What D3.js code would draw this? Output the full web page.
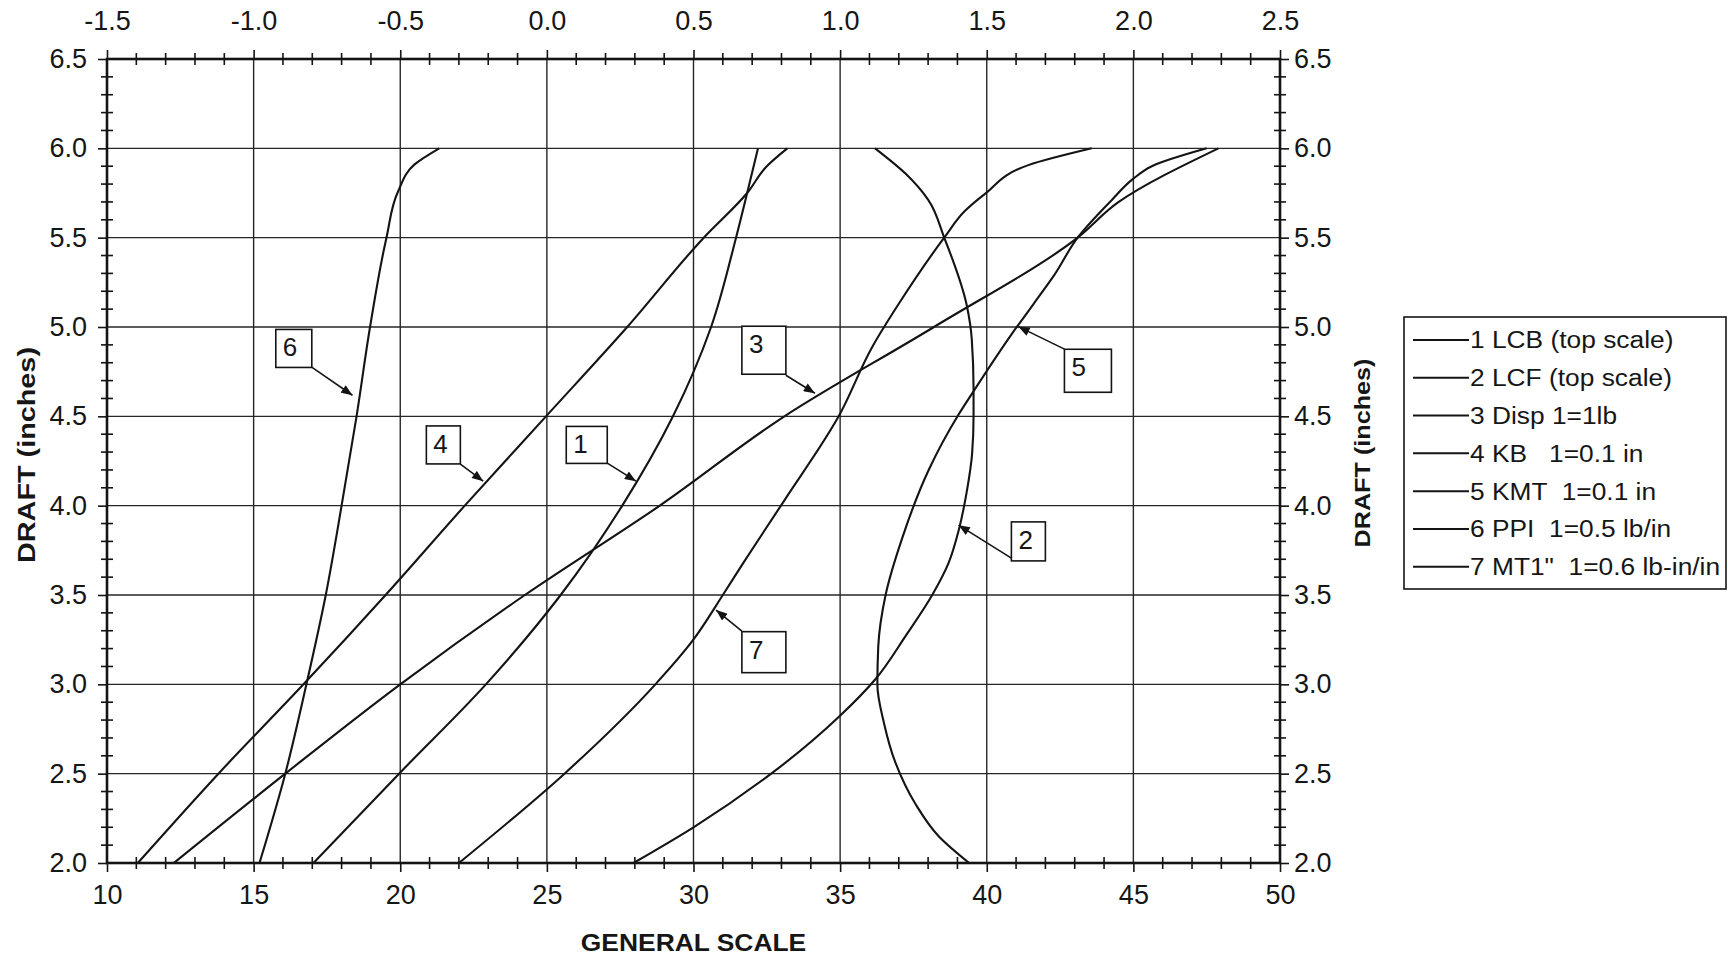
<!DOCTYPE html>
<html><head><meta charset="utf-8">
<script src="https://cdn.jsdelivr.net/npm/d3@7"></script>
<style>
html,body{margin:0;padding:0;background:#fff;}
svg{display:block;background:#fff;}
text{font-family:"Liberation Sans",Arial,Helvetica,sans-serif;fill:#161616;}
</style></head><body>
<svg id="chart" width="1728" height="958"></svg>
<script>
// ---------- DATA ----------
const bottomTicks = [10, 15, 20, 25, 30, 35, 40, 45, 50];
const topTicks = [-1.5, -1.0, -0.5, 0.0, 0.5, 1.0, 1.5, 2.0, 2.5];
const draftTicks = [2.0, 2.5, 3.0, 3.5, 4.0, 4.5, 5.0, 5.5, 6.0, 6.5];

// 1 LCB (top scale)
const lcbDraft = [2.0, 2.5, 3.0, 3.5, 4.0, 4.5, 5.0, 5.5, 5.75, 6.0];
const lcbTop   = [-0.796, -0.504, -0.208, 0.047, 0.257, 0.43, 0.56, 0.645, 0.683, 0.72];
// 2 LCF (top scale)
const lcfDraft = [2.0, 2.2, 2.5, 2.82, 3.03, 3.27, 3.5, 3.68, 3.86, 4.08, 4.29, 4.5, 4.65, 4.93, 5.12, 5.5, 5.71, 5.86, 6.0];
const lcfTop   = [0.295, 0.5, 0.765, 0.997, 1.121, 1.223, 1.314, 1.37, 1.404, 1.432, 1.45, 1.455, 1.455, 1.449, 1.432, 1.355, 1.301, 1.222, 1.119];
// 3 Disp (general scale)
const dispDraft = [2.0, 2.5, 3.0, 3.5, 4.0, 4.5, 5.0, 5.5, 5.7, 6.0];
const dispVal   = [12.28, 16.08, 20.0, 24.25, 28.85, 33.1, 38.2, 43.1, 44.5, 47.9];
// 4 KB
const kbDraft = [2.0, 2.5, 3.0, 3.5, 4.0, 4.5, 5.0, 5.5, 5.75, 5.9, 6.0];
const kbVal   = [11.05, 13.8, 16.7, 19.5, 22.2, 24.97, 27.74, 30.35, 31.83, 32.5, 33.2];
// 5 KMT
const kmtDraft = [2.0, 2.15, 2.33, 2.56, 2.78, 3.0, 3.21, 3.5, 3.82, 4.2, 4.51, 4.64, 4.96, 5.13, 5.29, 5.5, 5.71, 5.83, 5.9, 6.0];
const kmtVal   = [39.4, 38.36, 37.57, 36.89, 36.5, 36.27, 36.3, 36.55, 37.12, 38.02, 39.04, 39.55, 40.85, 41.6, 42.3, 43.1, 44.26, 45.0, 45.63, 47.5];
// 6 PPI
const ppiDraft = [2.0, 2.5, 3.0, 3.5, 4.0, 4.5, 5.0, 5.5, 5.76, 5.91, 6.0];
const ppiVal   = [15.2, 16.08, 16.8, 17.46, 18.0, 18.51, 18.97, 19.53, 19.93, 20.49, 21.33];
// 7 MT1"
const mtDraft = [2.0, 2.5, 3.0, 3.24, 3.5, 3.68, 4.03, 4.5, 4.89, 5.13, 5.5, 5.65, 5.745, 5.906, 6.0];
const mtVal   = [22.0, 25.6, 28.7, 29.95, 31.0, 31.7, 33.1, 34.95, 36.1, 37.0, 38.55, 39.26, 39.94, 41.42, 43.58];

const legendLabels = ["1 LCB (top scale)", "2 LCF (top scale)", "3 Disp 1=1lb", "4 KB   1=0.1 in",
  "5 KMT  1=0.1 in", "6 PPI  1=0.5 lb/in", "7 MT1\"  1=0.6 lb-in/in"];

// callout labels: [label, box centre (general scale, draft), arrow start, arrow tip]
const calloutText  = ["6", "4", "1", "3", "2", "5", "7"];
const calloutBox   = [[16.37, 4.88], [21.47, 4.34], [26.36, 4.34], [32.40, 4.87], [41.42, 3.80], [43.45, 4.755], [32.40, 3.18]];
const calloutFrom  = [[16.98, 4.775], [22.05, 4.232], [27.06, 4.238], [33.15, 4.73], [40.84, 3.706], [42.65, 4.876], [31.65, 3.298]];
const calloutTo    = [[18.37, 4.618], [22.83, 4.137], [28.04, 4.137], [34.14, 4.629], [39.04, 3.891], [41.08, 5.002], [30.77, 3.416]];

// ---------- LAYOUT / STYLE ----------
const SX = 1.0;    // tick label stretch
const SXL = 1.13;  // legend stretch
const M = {left: 107, right: 1280, top: 59, bottom: 863};
const svg = d3.select("#chart");
const x = d3.scaleLinear().domain([10, 50]).range([M.left, M.right]);
const xTop = d3.scaleLinear().domain([-1.5, 2.5]).range([M.left, M.right]);
const y = d3.scaleLinear().domain([2.0, 6.5]).range([M.bottom, M.top]);
const INK = "#141414";

function stretch(sel, s) {
  sel.each(function () {
    const t = d3.select(this);
    const tx = +t.attr("x") || 0, ty = +t.attr("y") || 0;
    t.attr("x", null).attr("y", null)
     .attr("transform", `translate(${tx},${ty}) scale(${s},1)`);
  });
}

// gridlines
const grid = svg.append("g").attr("stroke", "#262626").attr("stroke-width", 1.4);
grid.selectAll("line.v").data(bottomTicks.slice(1, -1)).join("line")
  .attr("x1", d => x(d)).attr("x2", d => x(d)).attr("y1", M.top).attr("y2", M.bottom);
grid.selectAll("line.h").data(draftTicks.slice(1, -1)).join("line")
  .attr("y1", d => y(d)).attr("y2", d => y(d)).attr("x1", M.left).attr("x2", M.right);

// minor ticks (crossing the axes)
const minorX = d3.range(10, 50.001, 1).filter(v => v % 5 !== 0);
const minorY = d3.range(20, 65.001, 1).map(v => v / 10).filter(v => Math.round(v * 10) % 5 !== 0);
const mt = svg.append("g").attr("stroke", INK).attr("stroke-width", 1.6);
[M.bottom, M.top].forEach(yy => {
  mt.append("g").selectAll("line").data(minorX).join("line")
    .attr("x1", d => x(d)).attr("x2", d => x(d)).attr("y1", yy - 6).attr("y2", yy + 6);
});
[M.left, M.right].forEach(xx => {
  mt.append("g").selectAll("line").data(minorY).join("line")
    .attr("y1", d => y(d)).attr("y2", d => y(d)).attr("x1", xx - 6).attr("x2", xx + 6);
});

// axes with labels
const fmt1 = d => d.toFixed(1);
function styleAxis(g, size) {
  g.attr("color", INK);
  g.select(".domain").remove();
  g.selectAll(".tick line").attr("stroke-width", 1.6);
  g.selectAll("text").attr("font-size", size);
  stretch(g.selectAll("text"), SX);
}
const axB = svg.append("g").attr("transform", `translate(0,${M.bottom})`)
  .call(d3.axisBottom(x).tickValues(bottomTicks).tickSize(9).tickPadding(13).tickFormat(d => String(d)));
styleAxis(axB, 27);
const axT = svg.append("g").attr("transform", `translate(0,${M.top})`)
  .call(d3.axisTop(xTop).tickValues(topTicks).tickSize(9).tickPadding(20).tickFormat(fmt1));
styleAxis(axT, 27);
const axL = svg.append("g").attr("transform", `translate(${M.left},0)`)
  .call(d3.axisLeft(y).tickValues(draftTicks).tickSize(9).tickPadding(11).tickFormat(fmt1));
styleAxis(axL, 27);
const axR = svg.append("g").attr("transform", `translate(${M.right},0)`)
  .call(d3.axisRight(y).tickValues(draftTicks).tickSize(9).tickPadding(5).tickFormat(fmt1));
styleAxis(axR, 27);

// frame
svg.append("rect").attr("x", M.left).attr("y", M.top)
  .attr("width", M.right - M.left).attr("height", M.bottom - M.top)
  .attr("fill", "none").attr("stroke", INK).attr("stroke-width", 2.6);

// series
const series = [
  {d: lcbDraft, v: lcbTop, sx: xTop},
  {d: lcfDraft, v: lcfTop, sx: xTop},
  {d: dispDraft, v: dispVal, sx: x},
  {d: kbDraft, v: kbVal, sx: x},
  {d: kmtDraft, v: kmtVal, sx: x},
  {d: ppiDraft, v: ppiVal, sx: x},
  {d: mtDraft, v: mtVal, sx: x}
];
const curves = svg.append("g").attr("fill", "none").attr("stroke", INK).attr("stroke-width", 2.1)
  .attr("stroke-linejoin", "round");
series.forEach(s => {
  const pts = s.d.map((dd, i) => [s.sx(s.v[i]), y(dd)]);
  curves.append("path").attr("d", d3.line().curve(d3.curveMonotoneY)(pts));
});

// callouts
const defs = svg.append("defs");
defs.append("marker").attr("id", "ah").attr("viewBox", "0 0 10 8")
  .attr("refX", 10).attr("refY", 4).attr("markerWidth", 12).attr("markerHeight", 9)
  .attr("markerUnits", "userSpaceOnUse").attr("orient", "auto")
  .append("path").attr("d", "M0,0 L10,4 L0,8 Z").attr("fill", INK);
const boxSize = [[36, 38], [34, 38], [41, 37], [44, 48], [34, 39], [47, 43], [44, 41]];
const co = svg.append("g");
calloutText.forEach((t, i) => {
  co.append("line")
    .attr("x1", x(calloutFrom[i][0])).attr("y1", y(calloutFrom[i][1]))
    .attr("x2", x(calloutTo[i][0])).attr("y2", y(calloutTo[i][1]))
    .attr("stroke", INK).attr("stroke-width", 1.6).attr("marker-end", "url(#ah)");
  const cx = x(calloutBox[i][0]), cy = y(calloutBox[i][1]);
  const [w, h] = boxSize[i];
  co.append("rect").attr("x", cx - w / 2).attr("y", cy - h / 2).attr("width", w).attr("height", h)
    .attr("fill", "#fff").attr("stroke", INK).attr("stroke-width", 1.6);
  co.append("text").attr("transform", `translate(${cx - w / 2 + 7},${cy - h / 2 + 27})`)
    .attr("font-size", 26).text(t);
});

// axis titles
svg.append("text").attr("transform", `translate(${(M.left + M.right) / 2},951) scale(1.1,1)`)
  .attr("text-anchor", "middle").attr("font-size", 24).attr("font-weight", "bold").text("GENERAL SCALE");
svg.append("text").attr("transform", `translate(27,455) rotate(-90) scale(1.2,1)`)
  .attr("text-anchor", "middle").attr("dy", "0.35em").attr("font-size", 24).attr("font-weight", "bold")
  .text("DRAFT (inches)");
svg.append("text").attr("transform", `translate(1362,453) rotate(-90) scale(1.12,1)`)
  .attr("text-anchor", "middle").attr("dy", "0.35em").attr("font-size", 22.5).attr("font-weight", "bold")
  .text("DRAFT (inches)");

// legend
const lg = svg.append("g");
lg.append("rect").attr("x", 1404).attr("y", 317).attr("width", 322).attr("height", 272)
  .attr("fill", "#fff").attr("stroke", INK).attr("stroke-width", 1.6);
const rowY = d3.scalePoint().domain(d3.range(legendLabels.length)).range([340, 566.7]);
legendLabels.forEach((lab, i) => {
  lg.append("line").attr("x1", 1413).attr("x2", 1469).attr("y1", rowY(i)).attr("y2", rowY(i))
    .attr("stroke", INK).attr("stroke-width", 2);
  lg.append("text").attr("transform", `translate(1470,${rowY(i)}) scale(${SXL},1)`)
    .attr("dy", "0.36em").attr("font-size", 23.3).style("white-space", "pre").text(lab);
});
</script>
</body></html>
